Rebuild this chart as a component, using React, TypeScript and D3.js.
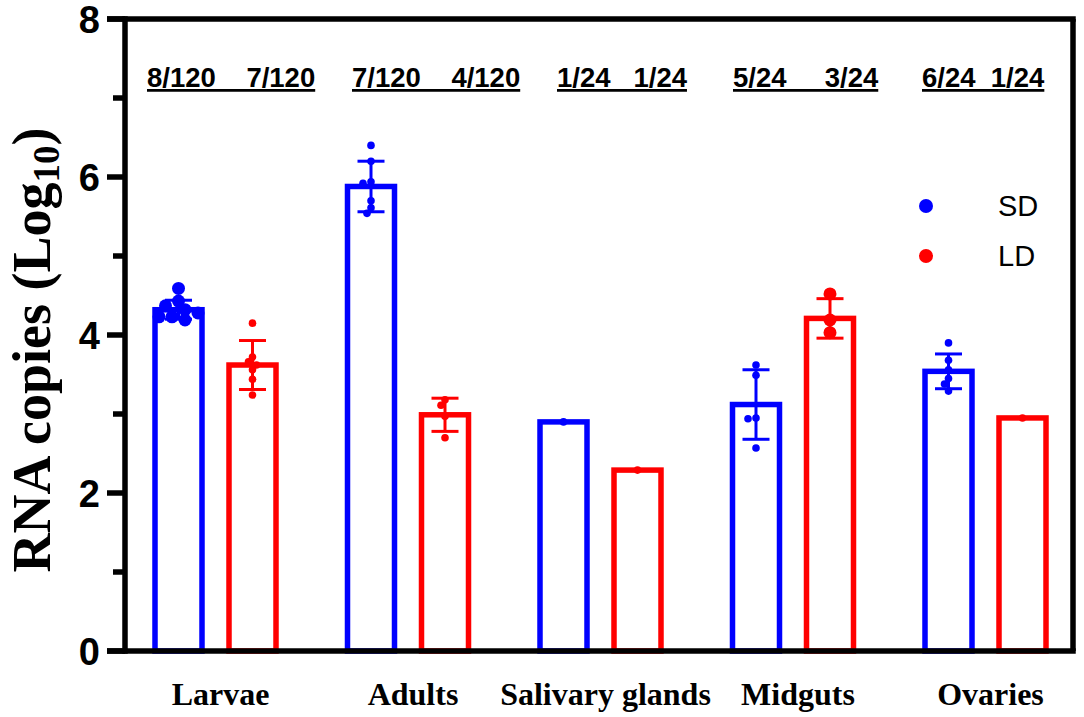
import { useEffect, useRef } from "react";
import { select, scaleLinear, scalePoint, range } from "d3";

// tissues along the x axis
const categories = ["Larvae", "Adults", "Salivary glands", "Midguts", "Ovaries"];
const seriesNames = ["SD", "LD"];

// positive / total counts shown above each group
const sdCounts = ["8/120", "7/120", "1/24", "5/24", "6/24"];
const ldCounts = ["7/120", "4/120", "1/24", "3/24", "1/24"];

// bar heights (mean) and error (SD), log10 copies
const sdMeans = [4.32, 5.88, 2.9, 3.12, 3.54];
const ldMeans = [3.62, 2.99, 2.29, 4.21, 2.95];
const sdErr = [0.12, 0.32, 0, 0.44, 0.22];
const ldErr = [0.31, 0.21, 0, 0.25, 0];

// individual samples
const sdPoints = [
  [4.59, 4.43, 4.37, 4.32, 4.28, 4.23, 4.23, 4.19],
  [6.4, 6.2, 5.94, 5.92, 5.7, 5.61, 5.54],
  [2.9],
  [3.62, 3.49, 2.95, 2.94, 2.57],
  [3.9, 3.68, 3.56, 3.45, 3.38, 3.29],
];
const ldPoints = [
  [4.15, 3.72, 3.66, 3.62, 3.56, 3.44, 3.24],
  [3.18, 3.11, 2.97, 2.7],
  [2.29],
  [4.52, 4.19, 4.03],
  [2.95],
];

const yTicks = [0, 2, 4, 6, 8];

const W = 1084;
const H = 717;

export default function App() {
  const svgRef = useRef<SVGSVGElement | null>(null);

  useEffect(() => {
    if (!svgRef.current) return;
    const svg = select(svgRef.current);
    svg.selectAll("*").remove();

    const left = 125;
    const right = 1073;
    const top = 19;
    const bottom = 651;

    const y = scaleLinear().domain([0, 8]).range([bottom, top]);
    const x = scalePoint<string>().domain(categories).range([215.5, 985.5]);
    const off = 37; // half distance between SD and LD bar centres
    const barW = 47;
    const colors = ["#0000ff", "#ff0000"];
    const means = [sdMeans, ldMeans];
    const errs = [sdErr, ldErr];
    const pts = [sdPoints, ldPoints];
    // larger symbols used in the original for these cells
    const bigDots = new Set(["0-0", "1-3"]);

    const gBars = svg.append("g");
    seriesNames.forEach((_, s) => {
      categories.forEach((c, i) => {
        const cx = (x(c) ?? 0) + (s === 0 ? -off : off);
        const m = means[s][i];
        const col = colors[s];
        gBars
          .append("rect")
          .attr("x", cx - barW / 2)
          .attr("y", y(m))
          .attr("width", barW)
          .attr("height", bottom - y(m))
          .attr("fill", "white")
          .attr("stroke", col)
          .attr("stroke-width", 5.5);

        const e = errs[s][i];
        if (e > 0) {
          const g = gBars.append("g").attr("stroke", col).attr("stroke-width", 3);
          g.append("line").attr("x1", cx).attr("x2", cx).attr("y1", y(m + e)).attr("y2", y(m - e));
          [m + e, m - e].forEach((v) => {
            g.append("line")
              .attr("x1", cx - 13.5)
              .attr("x2", cx + 13.5)
              .attr("y1", y(v))
              .attr("y2", y(v));
          });
        }

        // simple dodge so overlapping dots spread sideways a little
        const big = bigDots.has(`${s}-${i}`);
        const r = big ? 6.5 : 3.8;
        const step = big ? 6.5 : 4;
        const placed: { px: number; py: number }[] = [];
        pts[s][i].forEach((v) => {
          const py = y(v);
          let px = cx;
          const tries = [0, ...range(1, 4).flatMap((k) => [-k * step, k * step])];
          for (const dx of tries) {
            const cand = cx + dx;
            const hit = placed.some((p) => Math.hypot(p.px - cand, p.py - py) < r * 1.5);
            if (!hit) {
              px = cand;
              break;
            }
          }
          placed.push({ px, py });
          gBars.append("circle").attr("cx", px).attr("cy", py).attr("r", r).attr("fill", col);
        });
      });
    });

    // frame and axes
    const gAxes = svg.append("g").attr("stroke", "black").attr("stroke-width", 5.5).attr("fill", "none");
    gAxes.append("line").attr("x1", 107).attr("x2", right + 2.75).attr("y1", top).attr("y2", top);
    gAxes.append("line").attr("x1", right).attr("x2", right).attr("y1", top).attr("y2", bottom);
    gAxes.append("line").attr("x1", 107).attr("x2", right + 2.75).attr("y1", bottom).attr("y2", bottom);
    gAxes.append("line").attr("x1", left).attr("x2", left).attr("y1", top - 2.75).attr("y2", bottom + 2.75);
    range(0, 9).forEach((t) => {
      const major = t % 2 === 0;
      gAxes
        .append("line")
        .attr("x1", major ? 107 : 113)
        .attr("x2", left)
        .attr("y1", y(t))
        .attr("y2", y(t));
    });

    svg
      .append("g")
      .selectAll("text")
      .data(yTicks)
      .enter()
      .append("text")
      .attr("x", 100)
      .attr("y", (d) => y(d))
      .attr("dy", "0.36em")
      .attr("text-anchor", "end")
      .attr("font-family", "Liberation Sans, Arial, sans-serif")
      .attr("font-weight", "bold")
      .attr("font-size", 38)
      .text((d) => d);

    // category labels
    svg
      .append("g")
      .selectAll("text")
      .data(categories)
      .enter()
      .append("text")
      .attr("x", (d) => (x(d) ?? 0) + 5)
      .attr("y", 705)
      .attr("text-anchor", "middle")
      .attr("font-family", "Liberation Serif, Times New Roman, serif")
      .attr("font-weight", "bold")
      .attr("font-size", 32)
      .text((d) => d);

    // count labels above groups
    const gaps = [4, 4, 3, 5, 2];
    const startDx = [-68.5, -56, -43.5, -60, -63.5];
    svg
      .append("g")
      .selectAll("text")
      .data(categories)
      .enter()
      .append("text")
      .attr("x", (d, i) => (x(d) ?? 0) + startDx[i])
      .attr("y", 87)
      .attr("font-family", "Liberation Sans, Arial, sans-serif")
      .attr("font-weight", "bold")
      .attr("font-size", 27.5)
      .attr("text-decoration", "underline")
      .style("white-space", "pre")
      .text((_, i) => `${sdCounts[i]}${" ".repeat(gaps[i])}${ldCounts[i]}`);

    // y axis title with subscript
    const yt = svg
      .append("text")
      .attr("transform", `translate(50,350) rotate(-90)`)
      .attr("text-anchor", "middle")
      .attr("font-family", "Liberation Serif, Times New Roman, serif")
      .attr("font-weight", "bold")
      .attr("font-size", 54);
    yt.append("tspan").text("RNA copies (Log");
    yt.append("tspan").attr("font-size", 37).attr("dy", 9).text("10");
    yt.append("tspan").attr("dy", -9).text(")");

    // legend
    const gLeg = svg.append("g");
    seriesNames.forEach((n, s) => {
      const ly = 206 + s * 50;
      gLeg.append("circle").attr("cx", 926).attr("cy", ly).attr("r", 7).attr("fill", colors[s]);
      gLeg
        .append("text")
        .attr("x", 998)
        .attr("y", ly + 10)
        .attr("font-family", "Liberation Sans, Arial, sans-serif")
        .attr("font-size", 29)
        .text(n);
    });
  }, []);

  return (
    <svg
      ref={svgRef}
      width={W}
      height={H}
      style={{ position: "absolute", left: 0, top: 0, background: "white" }}
    />
  );
}
